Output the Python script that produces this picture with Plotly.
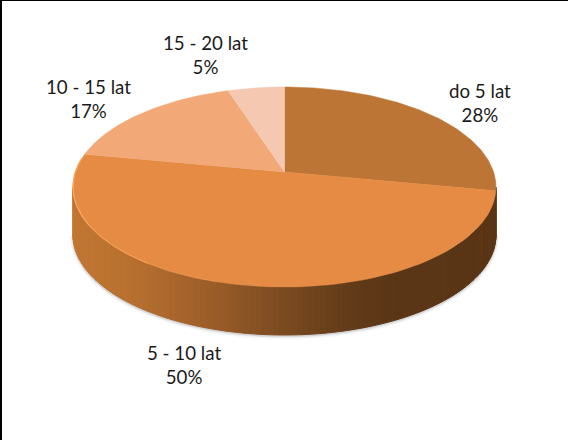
import numpy as np
import plotly.graph_objects as go

LABELS = ["do 5 lat", "5 - 10 lat", "10 - 15 lat", "15 - 20 lat"]
VALUES = [28, 50, 17, 5]
COLORS = ["#BD7535", "#E58B43", "#F2A877", "#F5C8B2"]
LABEL_POS = [(480, 103), (184, 365), (88, 98.5), (205.5, 55)]

# pie geometry in picture pixels, tilt is a simple perspective factor
CX, CY = 284.5, 172
RX, RY = 209.1, 97.75
TILT = 0.15
DEPTH = 48

# colour of the side wall going left to right across the picture
WALL_X = [73, 130, 200, 284, 350, 400, 496]
WALL_RGB = [(192, 119, 50), (184, 112, 48), (160, 96, 42), (122, 74, 32),
            (98, 59, 24), (90, 54, 22), (90, 53, 21)]


def project(deg):
    t = np.radians(deg)
    u, v = np.sin(t), np.cos(t)
    w = 1 + TILT * v
    return CX + RX * u / w, CY - RY * v / w


def wall_color(x):
    r, g, b = [np.interp(x, WALL_X, [c[i] for c in WALL_RGB]) for i in range(3)]
    return f"rgb({r:.0f},{g:.0f},{b:.0f})"


fig = go.Figure()

edge = np.degrees(np.arccos(-TILT))

# soft shadow round the bottom of the wall
sx, sy = project(np.linspace(edge, 360 - edge, 200))
for width, alpha in [(7, 0.05), (4, 0.08), (2, 0.15)]:
    fig.add_trace(go.Scatter(x=sx, y=sy + DEPTH + 1, mode="lines",
                             line=dict(color=f"rgba(90,90,90,{alpha})", width=width)))

# side wall, cut in strips so it can carry the gradient
steps = np.linspace(edge, 360 - edge, 121)
for a, b in zip(steps[:-1], steps[1:]):
    x1, y1 = project(a)
    x2, y2 = project(b)
    col = wall_color((x1 + x2) / 2)
    fig.add_trace(go.Scatter(x=[x1, x2, x2, x1, x1],
                             y=[y1, y2, y2 + DEPTH, y1 + DEPTH, y1],
                             mode="lines", fill="toself", fillcolor=col,
                             line=dict(color=col, width=1)))

# top face
start = 0
for value, color in zip(VALUES, COLORS):
    end = start + value / sum(VALUES) * 360
    ax, ay = project(np.linspace(start, end, 90))
    fig.add_trace(go.Scatter(x=np.r_[CX, ax, CX], y=np.r_[CY, ay, CY],
                             mode="lines", fill="toself", fillcolor=color,
                             line=dict(color=color, width=0.5)))
    start = end

# light rim on the front left of the top face, fading out towards the front
for a, b, alpha in [(196, 215, 0.35), (215, 240, 0.7), (240, 278, 1)]:
    rx_, ry_ = project(np.linspace(a, b, 40))
    fig.add_trace(go.Scatter(x=rx_, y=ry_, mode="lines",
                             line=dict(color=f"rgba(251,166,92,{alpha})", width=1.3)))

for label, value, (x, y) in zip(LABELS, VALUES, LABEL_POS):
    fig.add_annotation(x=x, y=y, text=f"{label}<br>{value}%", showarrow=False,
                       font=dict(family="Lato", size=18.7, color="#1a1a1a"))

fig.update_traces(showlegend=False, hoverinfo="skip")
fig.update_xaxes(range=[0, 568], visible=False)
fig.update_yaxes(range=[440, 0], visible=False)
fig.update_layout(width=568, height=440, margin=dict(l=0, r=0, t=0, b=0),
                  paper_bgcolor="white", plot_bgcolor="white",
                  shapes=[dict(type="line", xref="paper", yref="paper", x0=0, x1=0, y0=0, y1=1,
                               line=dict(color="black", width=4)),
                          dict(type="line", xref="paper", yref="paper", x0=0, x1=1, y0=1, y1=1,
                               line=dict(color="black", width=2))])

fig.write_html("out.html", config={"displayModeBar": False},
               post_script="document.body.style.margin='0'")
